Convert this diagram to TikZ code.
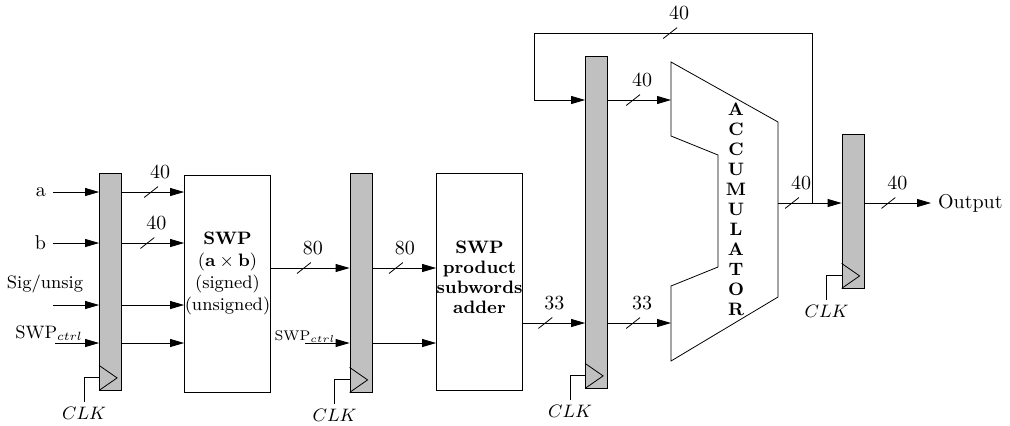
\documentclass[tikz,border=0pt]{standalone}
\usepackage{tikz}
\usetikzlibrary{positioning,arrows.meta,calc}
\definecolor{cReg}{HTML}{C0C0C0}
\tikzset{
  node-reg/.style={draw,fill=cReg,minimum width=11pt,inner sep=0pt},
  node-blk/.style={draw,minimum width=43pt,minimum height=108.5pt,inner sep=0pt},
  arrow/.style={-{Triangle[length=7pt,width=4pt]}},
  % bus width: short slash over the wire, the width written above it
  bus-mark/.style={inner sep=0pt,minimum width=7pt,minimum height=5.5pt,
    path picture={\draw[-] (path picture bounding box.south west) --
      (path picture bounding box.north east);},
    label={[xshift=4.5pt]above:#1}},
}
% clock input of a register: triangle plus the CLK wire
\newcommand{\clkin}[1]{%
  \draw (#1.south west) ++(0,12.5pt) -- ++(9pt,-6.25pt) -- (#1.south west);
  \draw (#1.south west) ++(0,6.5pt) -- ++(-7.5pt,0) -- ++(0,-12.5pt)
    node[below,font=\small,inner sep=2pt] (#1-clk) {$CLK$};}

\begin{document}
\begin{tikzpicture}[x=0.5pt,y=-0.5pt]
  \useasboundingbox (0,0) rectangle (1010,425);
  \node[node-reg,minimum height=108.5pt] (r1) at (110.5,281.5) {};
  \node[node-blk] (swp) at (227.5,283.5) {};
  \node[node-reg,minimum height=109.5pt] (r2) at (361,282.5) {};
  \node[node-blk] (add) at (479.5,281.5) {};
  \node[node-reg,minimum height=166pt] (r3) at (596.5,222) {};
  \node[node-reg,minimum height=77pt] (r4) at (853,211) {};
  \draw (671,62) -- (778,122) -- (778,297) -- (671,361) -- (671,286)
    -- (718,267) -- (718,155) -- (671,136) -- cycle;
  \clkin{r1} \clkin{r2} \clkin{r3} \clkin{r4}

  \node[font=\small,align=center] (swp-txt) at (227.5,273)
    {\textbf{SWP}\\$(\mathbf{a}\times\mathbf{b})$\\(signed)\\(unsigned)};
  \node[font=\fontsize{9}{10}\selectfont\bfseries,align=center] (add-txt)
    at (479.5,277) {SWP\\product\\subwords\\adder};
  \node[font=\fontsize{9}{10}\selectfont\bfseries,align=center] (acc-txt)
    at (736,209) {A\\C\\C\\U\\M\\U\\L\\A\\T\\O\\R};

  \coordinate (ina) at (53,192);
  \coordinate (inb) at (53,243);
  \coordinate (insig) at (53,305);
  \coordinate (inctl) at (55,343);
  \coordinate (inctl2) at (305,343);
  \coordinate (yprod) at (0,268);
  \coordinate (ysum) at (0,323);
  \coordinate (accin1) at (671,100);
  \coordinate (accin2) at (671,323);
  \coordinate (accout) at (778,203);
  \coordinate (fb) at (812,203);
  \coordinate (fbl) at (534,33);
  \coordinate (outp) at (931,203);

  \node[left] (la) at (ina) {a};
  \node[left] (lb) at (inb) {b};
  \node[font=\small,anchor=base] (lsig) at (45,288) {Sig/unsig};
  \node[font=\small,anchor=base] (lctl) at (49,338) {SWP$_{ctrl}$};
  \node[font=\scriptsize,anchor=base] (lctl2) at (305,340) {SWP$_{ctrl}$};
  \node[right] (lout) at (outp) {Output};

  \draw[arrow] (ina) -- (ina -| r1.west);
  \draw[arrow] (inb) -- (inb -| r1.west);
  \draw[arrow] (insig) -- (insig -| r1.west);
  \draw[arrow] (inctl) -- (inctl -| r1.west);
  \draw[arrow] (ina -| r1.east) -- node[bus-mark=40,pos=.47] (wa) {} (ina -| swp.west);
  \draw[arrow] (inb -| r1.east) -- node[bus-mark=40,pos=.41] (wb) {} (inb -| swp.west);
  \draw[arrow] (insig -| r1.east) -- (insig -| swp.west);
  \draw[arrow] (inctl -| r1.east) -- (inctl -| swp.west);

  \draw[arrow] (yprod -| swp.east) -- node[bus-mark=80,pos=.42] (wp1) {} (yprod -| r2.west);
  \draw[arrow] (inctl2) -- (inctl2 -| r2.west);
  \draw[arrow] (yprod -| r2.east) -- node[bus-mark=80,pos=.37] (wp2) {} (yprod -| add.west);
  \draw[arrow] (inctl2 -| r2.east) -- (inctl2 -| add.west);

  \draw[arrow] (ysum -| add.east) -- node[bus-mark=33,pos=.36] (ws1) {} (ysum -| r3.west);
  \draw[arrow] (ysum -| r3.east) -- node[bus-mark=33,pos=.4] (ws2) {} (accin2);
  \draw[arrow] (accin1 -| r3.east) -- node[bus-mark=40,pos=.4] (wq) {} (accin1);

  \draw[arrow] (accout) -- node[bus-mark=40,pos=.22] (wo1) {} (accout -| r4.west);
  \draw[arrow] (fb) |- node[bus-mark=40,pos=.755] (wfb) {} (fbl) |- (accin1 -| r3.west);
  \draw[arrow] (accout -| r4.east) -- node[bus-mark=40,pos=.36] (wo2) {} (outp);
\end{tikzpicture}
\end{document}
